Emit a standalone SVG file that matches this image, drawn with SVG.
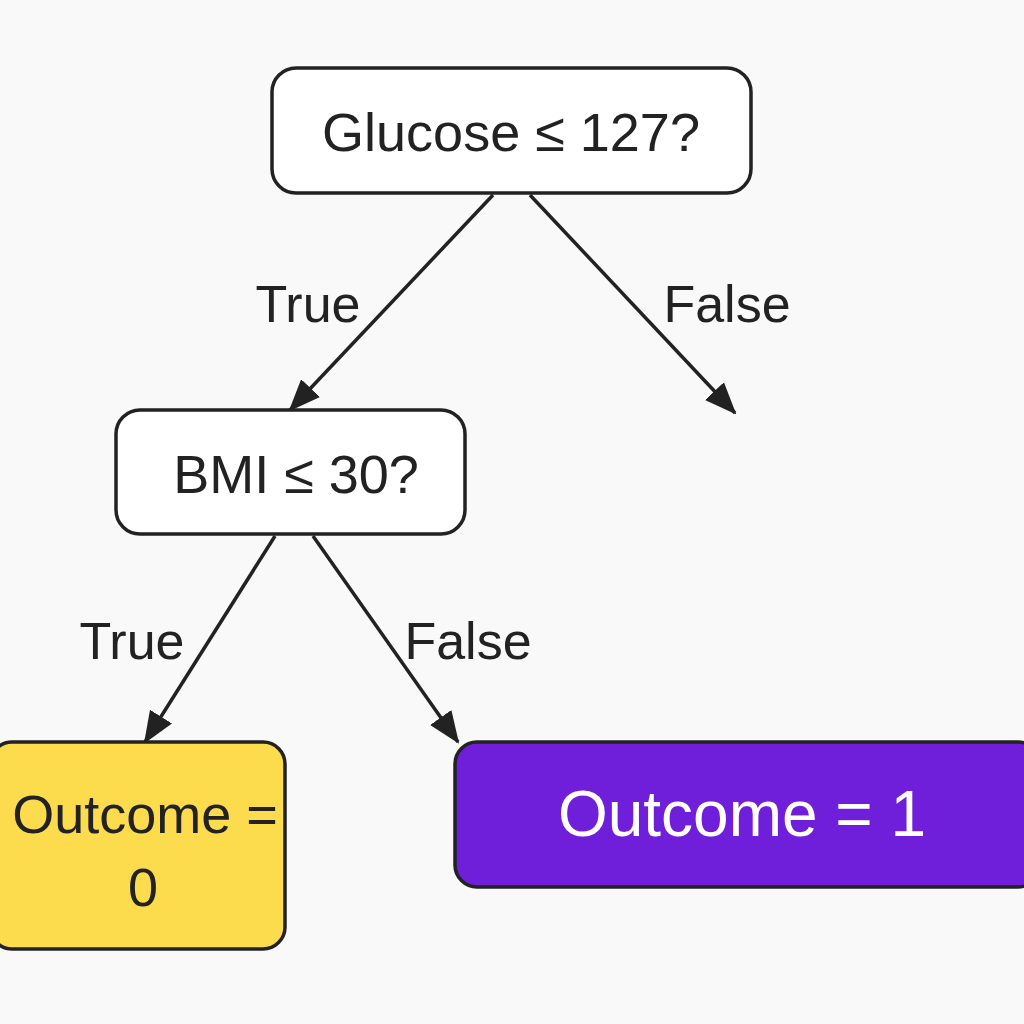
<svg xmlns="http://www.w3.org/2000/svg" width="1024" height="1024" viewBox="0 0 1024 1024">
<style>
.node{stroke:#222;stroke-width:3.5}
.q{fill:#fff}
.t{font-family:"Liberation Sans",Arial,sans-serif;fill:#222;text-anchor:middle}
.edge{stroke:#222;stroke-width:3.5;fill:none}
.lbl{font-family:"Liberation Sans",Arial,sans-serif;font-size:52px;fill:#222;text-anchor:middle}
</style>
<defs>
<marker id="arr" viewBox="0 0 32 32" refX="30" refY="16" markerWidth="32" markerHeight="32" markerUnits="userSpaceOnUse" orient="auto">
<path d="M0,3 L32,16 L0,29 Z" fill="#222"/>
</marker>
</defs>
<rect width="1024" height="1024" fill="#f9f9f9"/>
<g id="connectors">
<line class="edge" x1="493" y1="195" x2="290" y2="410" marker-end="url(#arr)"/>
<line class="edge" x1="530" y1="195" x2="735" y2="413" marker-end="url(#arr)"/>
<line class="edge" x1="275" y1="536" x2="145" y2="742" marker-end="url(#arr)"/>
<line class="edge" x1="313" y1="536" x2="458" y2="742" marker-end="url(#arr)"/>
<text class="lbl" x="308" y="322">True</text>
<text class="lbl" x="727" y="322">False</text>
<text class="lbl" x="132" y="659">True</text>
<text class="lbl" x="468" y="659">False</text>
</g>
<g id="root">
<rect class="node q" x="272" y="68" width="479" height="125" rx="24"/>
<text class="t" x="511" y="151" font-size="54">Glucose ≤ 127?</text>
</g>
<g id="bmi">
<rect class="node q" x="116" y="410" width="349" height="124" rx="24"/>
<text class="t" x="296" y="493" font-size="54">BMI ≤ 30?</text>
</g>
<g id="outcome0">
<rect class="node" x="-10" y="742" width="295" height="207" rx="22" fill="#fcdc4c"/>
<text class="t" x="145" y="833" font-size="54">Outcome =</text>
<text class="t" x="143" y="906" font-size="54">0</text>
</g>
<g id="outcome1">
<rect class="node" x="455" y="742" width="585" height="145" rx="22" fill="#6f1fd9"/>
<text class="t" x="742" y="836" font-size="64" style="fill:#fff">Outcome = 1</text>
</g>
</svg>
